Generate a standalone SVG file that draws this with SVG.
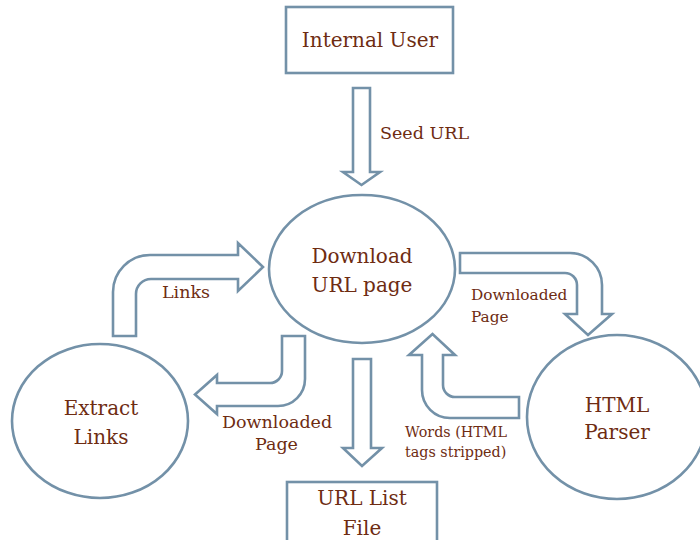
<svg xmlns="http://www.w3.org/2000/svg" width="700" height="540" viewBox="0 0 700 540">
<style>
.shape{fill:#fff;stroke:#7391a8;stroke-width:2.6;stroke-linejoin:miter}
.arrow{fill:#fff;stroke:#7391a8;stroke-width:2.6;stroke-linejoin:miter}
text{font-family:"DejaVu Serif","Liberation Serif",serif;fill:#6e2c12}
.big{font-size:20px;text-anchor:middle}
.mid{font-size:17.5px}
.small{font-size:15.3px}
.words{font-size:14.3px}
</style>
<rect width="700" height="540" fill="#fff"/>
<g id="connectors">
<path class="arrow" d="M353,88 L370,88 L370,172 L380,172 L361.5,185 L343,172 L353,172 Z"/>
<path class="arrow" d="M353,359 L371,359 L371,448 L382,448 L362,466 L343,448 L353,448 Z"/>
<path class="arrow" d="M113,336 L113,292 A37,37 0 0 1 150,255 L238,255 L238,243 L263,267 L238,291 L238,279 L151,279 A15,15 0 0 0 136,294 L136,336 Z"/>
<path class="arrow" d="M305,336 L305,379 A27,27 0 0 1 278,406 L217,406 L217,414 L195,394.5 L217,375 L217,383 L270,383 A12,12 0 0 0 282,371 L282,336 Z"/>
<path class="arrow" d="M460,253 L570,253 A32,32 0 0 1 602,285 L602,314 L612,314 L588,335 L565,314 L577,314 L577,285 A12,12 0 0 0 565,273 L460,273 Z"/>
<path class="arrow" d="M519,397 L455,397 A12,12 0 0 1 443,385 L443,355 L455,355 L432.5,334 L409,355 L422,355 L422,390 A28,28 0 0 0 450,418 L519,418 Z"/>
<text class="mid" x="380" y="139">Seed URL</text>
<text class="mid" x="162" y="298">Links</text>
<text class="mid" x="222" y="428">Downloaded</text>
<text class="mid" x="255" y="450">Page</text>
<text class="small" x="471" y="300">Downloaded</text>
<text class="small" x="471" y="322">Page</text>
<text class="words" x="405" y="437">Words (HTML</text>
<text class="words" x="405" y="457">tags stripped)</text>
</g>
<g id="internal-user">
<rect class="shape" x="286" y="7" width="167" height="66"/>
<text class="big" x="370" y="47">Internal User</text>
</g>
<g id="download">
<ellipse class="shape" cx="362" cy="269" rx="93" ry="74"/>
<text class="big" x="362" y="263">Download</text>
<text class="big" x="362" y="292">URL page</text>
</g>
<g id="extract">
<ellipse class="shape" cx="100" cy="421" rx="88" ry="77"/>
<text class="big" x="101" y="415">Extract</text>
<text class="big" x="101" y="444">Links</text>
</g>
<g id="html-parser">
<ellipse class="shape" cx="617" cy="417" rx="90" ry="82"/>
<text class="big" x="617" y="412">HTML</text>
<text class="big" x="617" y="439">Parser</text>
</g>
<g id="url-list">
<rect class="shape" x="287" y="482" width="150" height="70"/>
<text class="big" x="362" y="505">URL List</text>
<text class="big" x="362" y="535">File</text>
</g>
</svg>
